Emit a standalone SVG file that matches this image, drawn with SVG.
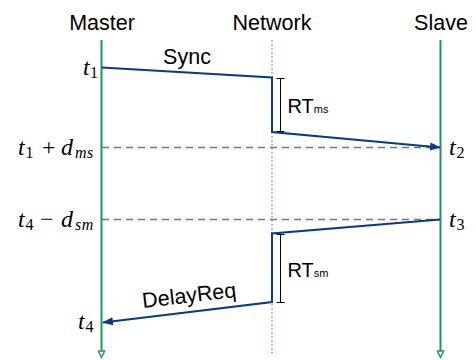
<svg xmlns="http://www.w3.org/2000/svg" width="476" height="360" viewBox="0 0 476 360">
<defs>
<style>
.hdr{font-family:"Liberation Sans",Arial,sans-serif;font-size:21.5px;fill:#000;text-anchor:middle}
.lbl{font-family:"Liberation Sans",Arial,sans-serif;font-size:21.5px;fill:#000}
.rt{font-family:"Liberation Sans",Arial,sans-serif;font-size:20px;fill:#000}
.rts{font-size:11px}
.math{font-family:"Liberation Serif","Times New Roman",serif;font-size:24px;font-style:italic;fill:#000}
.sub{font-size:16px;font-style:normal}
.subi{font-size:16px;font-style:italic;letter-spacing:0.5px}
.up{font-style:normal}
.life{stroke:#1a9a5e;stroke-width:2;fill:none}
.net{stroke:#5fc09a;stroke-width:1.5;stroke-dasharray:1.5 2.5;fill:none}
.msg{stroke:#0d3b7a;stroke-width:2;fill:none;stroke-linejoin:miter}
.dash{stroke:#777;stroke-width:1.6;stroke-dasharray:7 5;fill:none}
.br{stroke:#000;stroke-width:1;fill:none}
</style>
<marker id="openTri" viewBox="0 0 10 10" refX="1" refY="5" markerWidth="9" markerHeight="8" markerUnits="userSpaceOnUse" orient="auto">
<path d="M1,1 L9,5 L1,9 Z" fill="#fff" stroke="#1a9a5e" stroke-width="1.8"/>
</marker>
<marker id="blueArrow" viewBox="0 0 12 10" refX="11" refY="5" markerWidth="12" markerHeight="9" markerUnits="userSpaceOnUse" orient="auto">
<path d="M0,0.5 L12,5 L0,9.5 Z" fill="#0d3b7a"/>
</marker>
</defs>

<g id="master">
<text class="hdr" x="102" y="30">Master</text>
<line class="life" x1="101.5" y1="40" x2="101.5" y2="351" marker-end="url(#openTri)"/>
</g>
<g id="network">
<text class="hdr" x="272" y="30">Network</text>
<line class="net" x1="272" y1="40" x2="272" y2="354"/>
</g>
<g id="slave">
<text class="hdr" x="441" y="30">Slave</text>
<line class="life" x1="440.5" y1="40" x2="440.5" y2="351" marker-end="url(#openTri)"/>
</g>

<g id="connectors">
<line class="dash" x1="102" y1="147.5" x2="432" y2="147.5"/>
<line class="dash" x1="102" y1="219.5" x2="440" y2="219.5"/>
<path class="msg" d="M102,67.5 L272,77.5 L272,132 L440,147.5" marker-end="url(#blueArrow)"/>
<path class="msg" d="M440,219.5 L272,233.5 L272,302 L103,322.5" marker-end="url(#blueArrow)"/>
<path class="br" d="M276.5,78.5 H284.5 M280.5,78.5 V131.5 M276.5,131.5 H284.5"/>
<path class="br" d="M276.5,234.5 H284.5 M280.5,234.5 V302.5 M276.5,302.5 H284.5"/>
</g>

<g id="labels">
<text class="lbl" x="187" y="63.5" text-anchor="middle">Sync</text>
<text class="lbl" x="190" y="302.5" text-anchor="middle" transform="rotate(-6.7 190 302.5)">DelayReq</text>
<text class="rt" x="287.5" y="113">RT<tspan class="rts">ms</tspan></text>
<text class="rt" x="287.5" y="277">RT<tspan class="rts">sm</tspan></text>

<text class="math" y="74.5"><tspan x="83">t</tspan><tspan class="sub" x="90" dy="3">1</tspan></text>
<text class="math" y="154.5"><tspan x="18">t</tspan><tspan class="sub" x="25.5" dy="3">1</tspan><tspan class="up" x="42" dy="-3">+</tspan><tspan x="61">d</tspan><tspan class="subi" x="75" dy="3">ms</tspan></text>
<text class="math" y="226.5"><tspan x="18">t</tspan><tspan class="sub" x="25.5" dy="3">4</tspan><tspan class="up" x="40" dy="-3">−</tspan><tspan x="61">d</tspan><tspan class="subi" x="75" dy="3">sm</tspan></text>
<text class="math" y="328.5"><tspan x="78">t</tspan><tspan class="sub" x="85.5" dy="3">4</tspan></text>
<text class="math" y="154.5"><tspan x="449">t</tspan><tspan class="sub" x="456.5" dy="3">2</tspan></text>
<text class="math" y="226.5"><tspan x="449">t</tspan><tspan class="sub" x="456.5" dy="3">3</tspan></text>
</g>
</svg>
